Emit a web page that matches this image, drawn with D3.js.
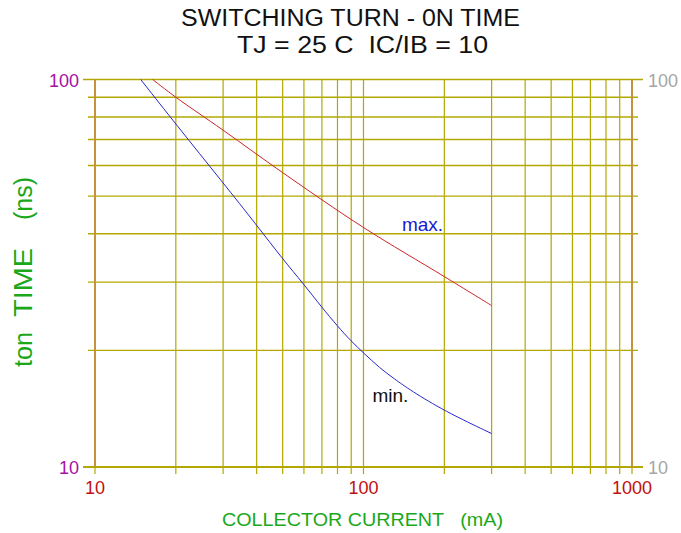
<!DOCTYPE html>
<html>
<head>
<meta charset="utf-8">
<script src="https://cdn.jsdelivr.net/npm/d3@7"></script>
<style>
  html, body { margin: 0; padding: 0; background: #ffffff; }
  svg { display: block; font-family: "Liberation Sans", Arial, sans-serif; }
</style>
</head>
<body>
<svg id="chart" width="681" height="533"></svg>
<script>
// ---- data ----
const titleLines = ["SWITCHING TURN - 0N TIME", "TJ = 25 C  IC/IB = 10"];
const xTitle = "COLLECTOR CURRENT   (mA)";
const yTitleParts = ["ton", "TIME", "(ns)"];
const xDomain = [10, 1000];
const yDomain = [10, 100];
const xTickLabels = [10, 100, 1000];
const yTickLabels = [10, 100];
const xGrid = [10,20,30,40,50,60,70,80,90,100,200,300,400,500,600,700,800,900,1000];
const yGrid = [10,20,30,40,50,60,70,80,90,100];

const maxCurrent = [16.4, 20, 30, 50, 100, 200, 300];
const maxTime    = [100, 90, 74, 57.5, 41.5, 31, 26.1];
const minCurrent = [14.8, 20, 30, 40, 50, 60, 70, 80, 90, 100, 115, 130, 150, 200, 300];
const minTime    = [100, 76.7, 54.1, 42.1, 34.4, 29.6, 25.8, 23.1, 21.1, 19.7, 18.0, 16.9, 15.75, 13.95, 12.2];
const curveLabels = [
  {text: "max.", at: [139, 40.6], color: "#1a1acc"},
  {text: "min.", at: [108, 14.75], color: "#111111"}
];

// ---- chart ----
const svg = d3.select("#chart");
const x = d3.scaleLog().domain(xDomain).range([95, 632]);
const y = d3.scaleLog().domain(yDomain).range([467, 79.5]);

const gridColor = "#b3a800";
const frameColor = "#c4923c";

// vertical grid lines (extend below as ticks)
svg.append("g").selectAll("line").data(xGrid).join("line")
  .attr("x1", d => x(d)).attr("x2", d => x(d))
  .attr("y1", y(100)).attr("y2", y(10) + 7)
  .attr("stroke", gridColor).attr("stroke-width", 1.2);

// horizontal grid lines (extend both sides)
svg.append("g").selectAll("line").data(yGrid).join("line")
  .attr("x1", d => (d === 10 || d === 100) ? x(10) - 12 : x(10) - 7)
  .attr("x2", d => (d === 10 || d === 100) ? x(1000) + 11 : x(1000) + 6)
  .attr("y1", d => y(d)).attr("y2", d => y(d))
  .attr("stroke", gridColor)
  .attr("stroke-width", d => d === 10 ? 2 : 1.4);

// left/right frame lines
svg.append("g").selectAll("line").data([10, 1000]).join("line")
  .attr("x1", d => x(d)).attr("x2", d => x(d))
  .attr("y1", y(100)).attr("y2", y(10))
  .attr("stroke", frameColor).attr("stroke-width", 2);

// curves
const lineMax = d3.line().x(d => x(d[0])).y(d => y(d[1])).curve(d3.curveCatmullRom.alpha(0.5));
const lineMin = d3.line().x(d => x(d[0])).y(d => y(d[1])).curve(d3.curveBasis);
svg.append("path").datum(d3.zip(maxCurrent, maxTime))
  .attr("d", lineMax).attr("fill", "none").attr("stroke", "#c8262a").attr("stroke-width", 1);
svg.append("path").datum(d3.zip(minCurrent, minTime))
  .attr("d", lineMin).attr("fill", "none").attr("stroke", "#2828c8").attr("stroke-width", 1);

// curve labels
svg.append("g").selectAll("text").data(curveLabels).join("text")
  .attr("x", d => x(d.at[0])).attr("y", d => y(d.at[1]))
  .attr("fill", d => d.color).attr("font-size", 19)
  .text(d => d.text);

// tick labels
svg.append("g").selectAll("text").data(yTickLabels).join("text")
  .attr("x", 79).attr("y", d => y(d) + 7)
  .attr("text-anchor", "end").attr("fill", "#a312a3").attr("font-size", 18)
  .text(d => d);
svg.append("g").selectAll("text").data(yTickLabels).join("text")
  .attr("x", 648).attr("y", d => y(d) + 7)
  .attr("text-anchor", "start").attr("fill", "#a6a6a6").attr("font-size", 18)
  .text(d => d);
svg.append("g").selectAll("text").data(xTickLabels).join("text")
  .attr("x", d => x(d)).attr("y", 494)
  .attr("text-anchor", "middle").attr("fill", "#c01010").attr("font-size", 18)
  .text(d => d);

// titles
const titleGeom = [{cx: 350.5, w: 339, by: 26}, {cx: 362.5, w: 251, by: 52.5}];
svg.append("g").selectAll("text").data(titleLines).join("text")
  .attr("x", (d, i) => titleGeom[i].cx - titleGeom[i].w / 2)
  .attr("y", (d, i) => titleGeom[i].by)
  .attr("textLength", (d, i) => titleGeom[i].w)
  .attr("lengthAdjust", "spacingAndGlyphs")
  .attr("fill", "#111111").attr("font-size", 23)
  .style("white-space", "pre")
  .text(d => d);

svg.append("text")
  .attr("x", 222).attr("y", 526)
  .attr("textLength", 281).attr("lengthAdjust", "spacingAndGlyphs")
  .attr("fill", "#1aa81a").attr("font-size", 19)
  .style("white-space", "pre")
  .text(xTitle);

const yParts = [
  {t: yTitleParts[0], a: 332, b: 367},
  {t: yTitleParts[1], a: 248, b: 317},
  {t: yTitleParts[2], a: 177, b: 220}
];
svg.append("g").selectAll("text").data(yParts).join("text")
  .attr("transform", d => `translate(32,${d.b}) rotate(-90)`)
  .attr("textLength", d => d.b - d.a).attr("lengthAdjust", "spacingAndGlyphs")
  .attr("fill", "#1aa81a").attr("font-size", 25)
  .text(d => d.t);
</script>
</body>
</html>
